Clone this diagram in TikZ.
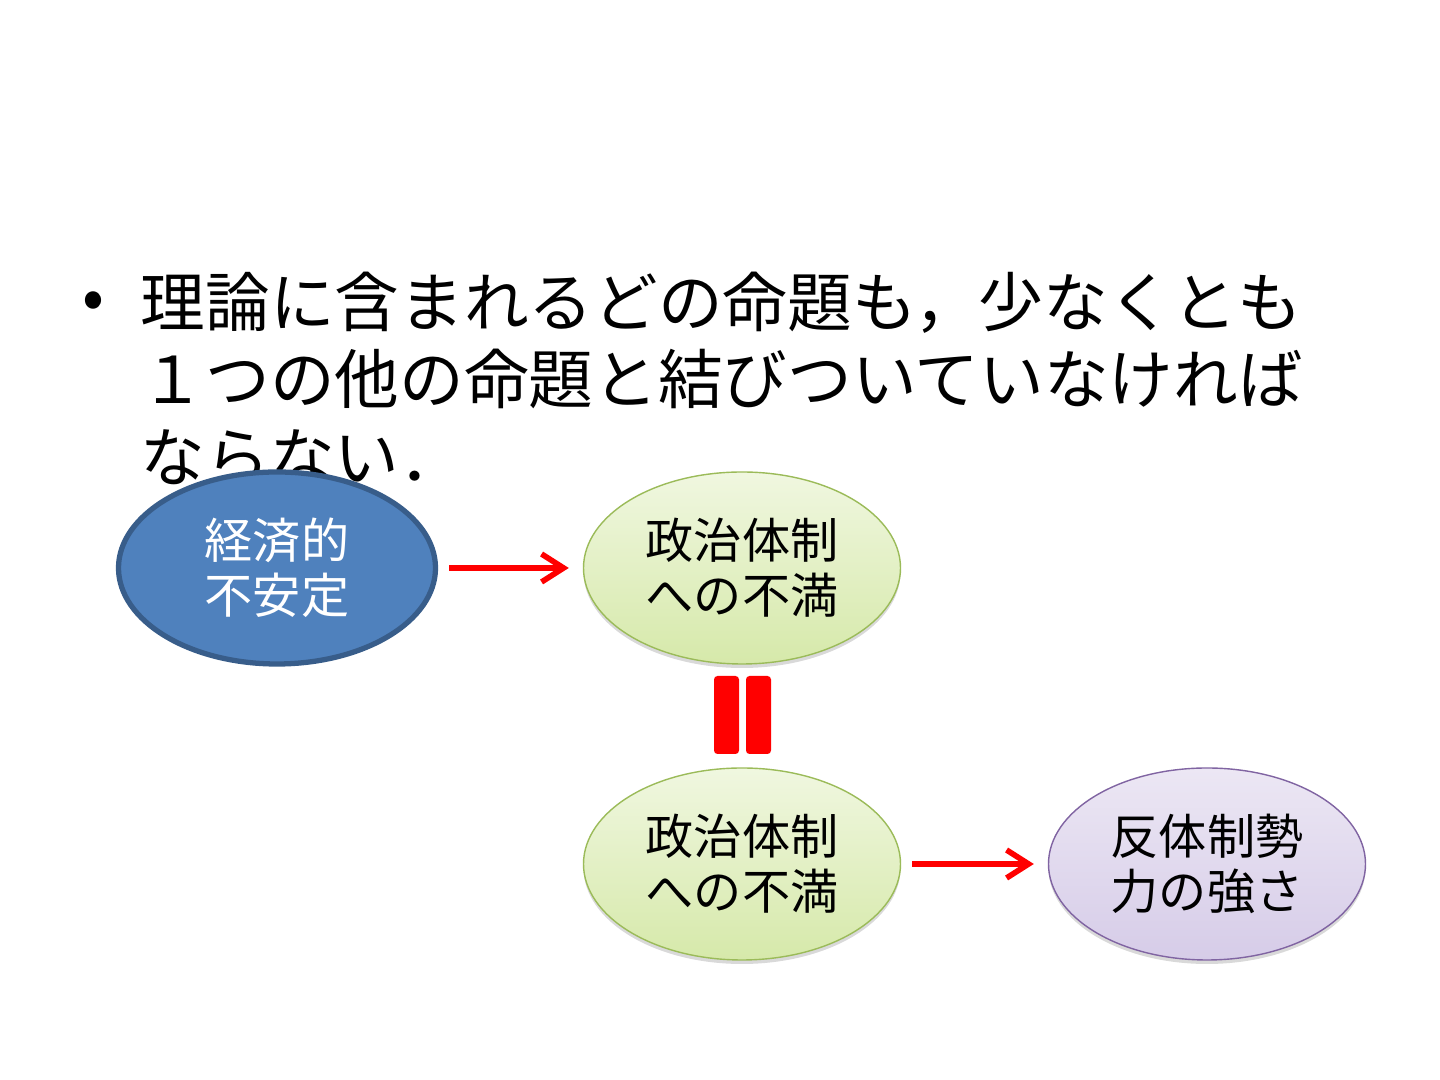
\documentclass[tikz,border=0pt]{standalone}
\usepackage{fontspec}
\setmainfont{Noto Sans CJK JP}
\usepackage{xcolor}
\definecolor{ecoblue}{RGB}{79,129,189}
\definecolor{ecoline}{RGB}{56,93,138}
\definecolor{polline}{RGB}{155,187,89}
\definecolor{poltop}{RGB}{240,247,224}
\definecolor{polbot}{RGB}{214,233,170}
\definecolor{antiline}{RGB}{128,100,162}
\definecolor{antitop}{RGB}{236,231,244}
\definecolor{antibot}{RGB}{214,204,232}
\usetikzlibrary{
  shapes.geometric,
  arrows.meta,
  positioning,
  shadows
}

\begin{document}
\begin{tikzpicture}[
  blob/.style={ellipse, minimum width=3.17cm, minimum height=1.92cm, inner sep=0pt, align=center,
    font=\fontsize{13.7pt}{15.6pt}\selectfont},
  shade/.style={drop shadow={opacity=0.3, shadow xshift=0pt, shadow yshift=-0.04cm}},
  arr/.style={-{Straight Barb[length=2.2mm, width=2.8mm]}, line width=1.6pt, red,
    shorten <=0.11cm, shorten >=0.14cm},
  bar/.style={rectangle, fill=red, rounded corners=1pt, minimum width=0.25cm, minimum height=0.78cm, inner sep=0pt},
  claim/.style={align=left, inner sep=0pt, font=\fontsize{18.4pt}{22.1pt}\selectfont}
]
  \useasboundingbox (0,0) rectangle (14.4,10.8);

  \node[claim, anchor=west] (dot) at (0.82,7.74) {•};
  \node[claim, anchor=north west] (claim) at (1.40,8.09)
    {理論に含まれるどの命題も，少なくとも\\
     １つの他の命題と結びついていなければ\\
     ならない．};

  \node[blob, fill=ecoblue, draw=ecoline, line width=1.5pt, text=white] (eco) at (2.77,5.12) {経済的\\不安定};
  \node[blob, shade, top color=poltop, bottom color=polbot, draw=polline] (pol1) at (7.42,5.12) {政治体制\\への不満};
  \node[blob, shade, top color=poltop, bottom color=polbot, draw=polline] (pol2) at (7.42,2.16) {政治体制\\への不満};
  \node[blob, shade, top color=antitop, bottom color=antibot, draw=antiline] (anti) at (12.07,2.16) {反体制勢\\力の強さ};

  \node[bar] (barL) at (7.265,3.65) {};
  \node[bar] (barR) at (7.585,3.65) {};

  \draw[arr] (eco) -- (pol1);
  \draw[arr] (pol2) -- (anti);
\end{tikzpicture}
\end{document}
